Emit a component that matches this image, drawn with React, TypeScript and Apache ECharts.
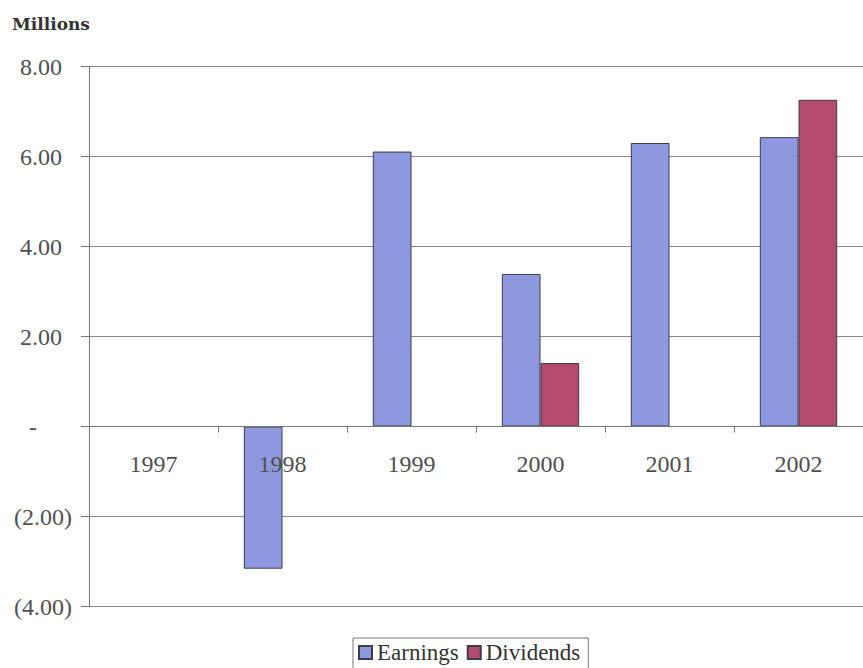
import React, { useEffect, useRef } from "react";
import * as echarts from "echarts";

// Fiscal years shown along the category axis
const years = ["1997", "1998", "1999", "2000", "2001", "2002"];
// Values in millions
const earnings = [0, -3.16, 6.11, 3.39, 6.3, 6.43];
const dividends = [0, 0, 0, 1.41, 0, 7.26];
// Value axis range and step (millions)
const yMin = -4;
const yMax = 8;
const yStep = 2;

const FONT = "'Liberation Serif', 'DejaVu Serif', serif";
const TITLE_FONT = "'DejaVu Serif', serif";

// Accounting-style number format: negatives in parentheses, zero as a dash
function fmtAccounting(v: number): string {
  if (v === 0) return "{zero|-}";
  if (v < 0) return "{neg|(" + Math.abs(v).toFixed(2) + ")}";
  return "{pos|" + v.toFixed(2) + "}";
}

export default function App() {
  const ref = useRef<HTMLDivElement>(null);

  useEffect(() => {
    document.body.style.margin = "0";
    if (!ref.current) return;
    const chart = echarts.init(ref.current, null, { renderer: "svg" });
    const labelStyle = { fontFamily: FONT, fontSize: 24, color: "#505050" };
    const gridTop = 66.5;
    const gridHeight = 540;
    // distance from the plot bottom up to the zero line
    const zeroOffset = (gridHeight * (0 - yMin)) / (yMax - yMin);
    chart.setOption({
      animation: false,
      backgroundColor: "#ffffff",
      title: {
        text: "Millions",
        left: 7,
        top: 10,
        textStyle: { fontFamily: TITLE_FONT, fontSize: 17, fontWeight: "bold", color: "#333333" },
      },
      legend: {
        top: 638,
        left: 353,
        icon: "rect",
        itemWidth: 13,
        itemHeight: 13,
        itemGap: 8,
        padding: [3, 8, 8, 5],
        borderColor: "#777777",
        borderWidth: 1,
        textStyle: { fontFamily: FONT, fontSize: 23, color: "#333333" },
        data: ["Earnings", "Dividends"],
      },
      grid: { left: 89, top: gridTop, width: 781, height: gridHeight, containLabel: false },
      xAxis: {
        type: "category",
        data: years,
        position: "bottom",
        offset: -zeroOffset,
        z: 5,
        axisLine: { onZero: false, lineStyle: { color: "#777777", width: 1 } },
        axisTick: { show: true, inside: false, length: 6, lineStyle: { color: "#777777" } },
        axisLabel: { ...labelStyle, margin: 25 },
        splitLine: { show: false },
      },
      yAxis: {
        type: "value",
        min: yMin,
        max: yMax,
        interval: yStep,
        axisLine: { show: true, onZero: false, lineStyle: { color: "#777777", width: 1 } },
        axisTick: { show: true, length: 8, lineStyle: { color: "#777777" } },
        splitLine: { show: true, lineStyle: { color: "#8a8a8a", width: 1 } },
        axisLabel: {
          ...labelStyle,
          margin: 17,
          formatter: (v: number) => fmtAccounting(v),
          rich: {
            pos: { ...labelStyle, padding: [0, 10, 0, 0] },
            neg: { ...labelStyle },
            zero: { ...labelStyle, padding: [0, 35, 0, 0] },
          },
        },
      },
      series: [
        {
          name: "Earnings",
          type: "bar",
          data: earnings,
          barGap: "0%",
          barCategoryGap: "40%",
          itemStyle: { color: "#8e98de", borderColor: "#3c3c4c", borderWidth: 1 },
        },
        {
          name: "Dividends",
          type: "bar",
          data: dividends,
          barGap: "0%",
          barCategoryGap: "40%",
          itemStyle: { color: "#b34b6d", borderColor: "#3c3c4c", borderWidth: 1 },
        },
      ],
    });
    return () => chart.dispose();
  }, []);

  return <div ref={ref} style={{ width: 863, height: 668 }} />;
}
